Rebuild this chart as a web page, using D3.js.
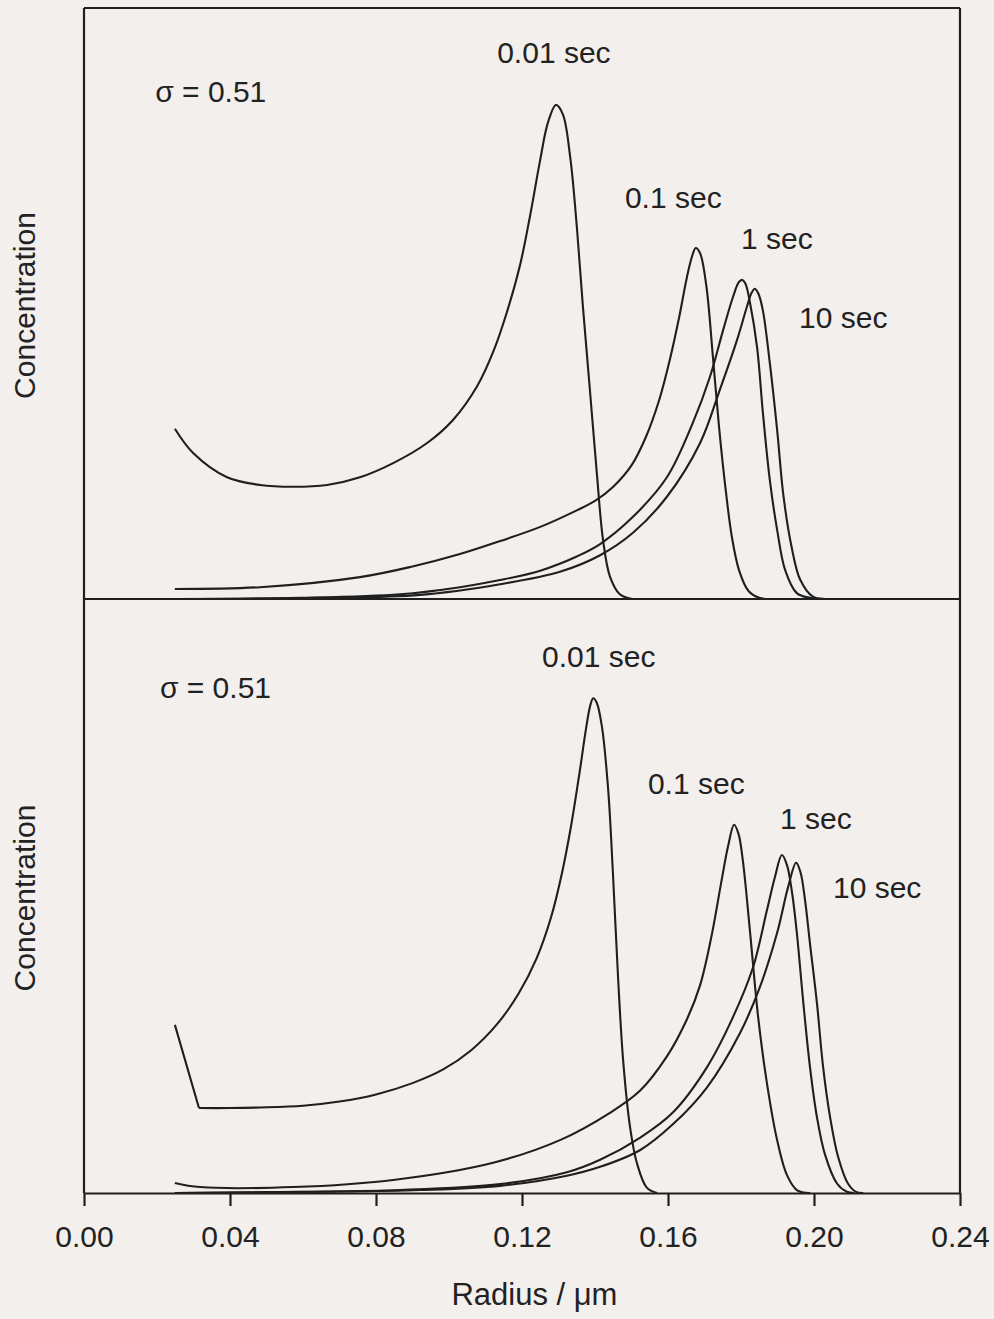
<!DOCTYPE html>
<html>
<head>
<meta charset="utf-8">
<script src="https://cdn.jsdelivr.net/npm/d3@7"></script>
<style>
  html, body { margin: 0; padding: 0; background: #f3efec; }
  svg { display: block; }
  text { font-family: "Liberation Sans", Arial, sans-serif; fill: #222; }
</style>
</head>
<body>
<svg id="chart" width="994" height="1319"></svg>
<script>
// ---------- data ----------
const xTicks = [0, 0.04, 0.08, 0.12, 0.16, 0.20, 0.24];
const seriesNames = ["0.01 sec", "0.1 sec", "1 sec", "10 sec"];
const sigmaLabel = "σ = 0.51";
const xLabel = "Radius / μm";
const yLabel = "Concentration";

// top panel: [radius (µm), concentration (arb.)]
const top001 = [[0.0249,28.8],[0.0299,24.7],[0.0392,20.6],[0.0482,19.3],[0.0573,19.0],[0.0666,19.3],[0.0756,20.6],[0.0847,23.0],[0.0940,26.4],[0.1011,30.3],[0.1077,36.0],[0.1121,41.8],[0.1159,48.6],[0.1195,56.6],[0.1222,64.8],[0.1249,74.0],[0.1271,80.6],[0.1293,83.6],[0.1312,82.0],[0.1332,74.8],[0.1351,62.4],[0.1367,49.4],[0.1386,35.4],[0.1405,21.3],[0.1422,10.0],[0.1441,3.8],[0.1468,0.8],[0.1495,0.1],[0.1520,0]];
const top01 = [[0.0249,1.7],[0.0482,2.0],[0.0756,3.7],[0.0900,5.5],[0.1030,7.6],[0.1140,9.8],[0.1250,12.2],[0.1350,15.0],[0.1400,16.6],[0.1450,19.0],[0.1500,22.6],[0.1540,27.5],[0.1575,33.5],[0.1605,40.5],[0.1630,47.5],[0.1652,54.5],[0.1666,58.0],[0.1676,59.4],[0.1688,58.5],[0.1705,53.0],[0.1723,41.0],[0.1740,29.0],[0.1758,18.5],[0.1775,10.5],[0.1795,4.8],[0.1820,1.4],[0.1850,0.2],[0.1890,0]];
const top1 = [[0.0249,0],[0.0592,0.2],[0.0866,0.8],[0.1030,2.0],[0.1140,3.2],[0.1250,4.8],[0.1350,7.2],[0.1414,9.3],[0.1504,13.9],[0.1597,20.6],[0.1668,29.8],[0.1715,37.6],[0.1751,45.5],[0.1778,51.1],[0.1794,53.6],[0.1803,54.0],[0.1812,53.4],[0.1825,50.0],[0.1844,42.6],[0.1860,31.5],[0.1879,20.1],[0.1899,11.7],[0.1921,4.9],[0.1953,1.0],[0.1989,0.2],[0.2030,0]];
const top10 = [[0.0249,0],[0.0647,0.2],[0.0921,0.7],[0.1140,2.5],[0.1304,4.6],[0.1414,7.4],[0.1504,11.2],[0.1597,17.3],[0.1688,26.4],[0.1742,35.4],[0.1789,43.8],[0.1816,49.4],[0.1829,51.8],[0.1838,52.5],[0.1848,51.6],[0.1860,48.8],[0.1879,39.9],[0.1899,28.6],[0.1916,17.6],[0.1938,9.0],[0.1962,3.3],[0.1997,0.4],[0.2036,0]];

// bottom panel
const bot001 = [[0.0249,28.3],[0.0315,14.3],[0.0400,14.3],[0.0482,14.4],[0.0600,14.7],[0.0700,15.4],[0.0800,16.6],[0.0900,18.5],[0.0984,20.8],[0.1060,24.0],[0.1130,28.3],[0.1190,33.5],[0.1240,39.5],[0.1280,46.5],[0.1310,54.0],[0.1335,62.0],[0.1357,70.5],[0.1375,78.0],[0.1386,81.8],[0.1395,83.3],[0.1405,82.5],[0.1419,78.5],[0.1436,68.0],[0.1449,54.0],[0.1463,36.5],[0.1477,22.4],[0.1496,11.1],[0.1515,5.0],[0.1542,0.9],[0.1570,0]];
const bot01 = [[0.0249,1.7],[0.0318,1.0],[0.0573,1.0],[0.0847,2.2],[0.1121,5.1],[0.1304,8.9],[0.1441,13.5],[0.1523,17.2],[0.1597,23.0],[0.1650,29.0],[0.1688,35.0],[0.1720,43.5],[0.1745,52.0],[0.1765,58.5],[0.1781,62.0],[0.1793,60.5],[0.1805,56.0],[0.1825,43.8],[0.1847,29.6],[0.1871,18.5],[0.1899,8.9],[0.1926,3.0],[0.1953,0.5],[0.1989,0]];
const bot1 = [[0.0249,0],[0.0592,0.2],[0.0866,0.5],[0.1140,1.5],[0.1323,3.5],[0.1414,5.6],[0.1523,9.3],[0.1614,13.6],[0.1707,21.2],[0.1778,29.6],[0.1833,38.0],[0.1871,47.6],[0.1893,53.2],[0.1912,56.9],[0.1926,55.2],[0.1940,50.5],[0.1953,43.8],[0.1970,32.5],[0.1989,21.2],[0.2008,12.8],[0.2030,6.5],[0.2063,1.6],[0.2090,0.2],[0.2110,0]];
const bot10 = [[0.0249,0],[0.0647,0.2],[0.0921,0.5],[0.1140,1.2],[0.1323,2.9],[0.1414,4.4],[0.1523,7.2],[0.1614,11.6],[0.1707,17.8],[0.1797,26.9],[0.1852,34.7],[0.1899,43.8],[0.1929,51.5],[0.1951,55.6],[0.1963,54.0],[0.1975,49.5],[0.1989,42.0],[0.2008,32.0],[0.2025,21.2],[0.2044,12.8],[0.2066,6.1],[0.2093,1.6],[0.2115,0.2],[0.2135,0]];

// label anchor positions in data units: [radius, concentration]
const topLabelPos = [[0.1132,90.7],[0.1482,66.2],[0.1800,59.2],[0.1959,45.9]];
const botLabelPos = [[0.1255,88.5],[0.1545,67.2],[0.1907,61.3],[0.2052,49.7]];
const sigmaPos = [[0.0195,84.1],[0.0208,83.3]];

// ---------- drawing ----------
const svg = d3.select("#chart");
const L = 84, R = 960;
const x = d3.scaleLinear().domain([0, 0.24]).range([L, R]);
const yTop = d3.scaleLinear().domain([0, 100]).range([599, 8]);
const yBot = d3.scaleLinear().domain([0, 100]).range([1193, 599]);

const ink = "#1f1f1f";
const FS = 30;

function drawPath(d) {
  svg.append("path").attr("d", d)
    .attr("fill", "none").attr("stroke", ink).attr("stroke-width", 2.1)
    .attr("stroke-linejoin", "round");
}

function panel(yS, series, labelPos, sPos, sharpStart) {
  const smooth = d3.line().x(d => x(d[0])).y(d => yS(d[1])).curve(d3.curveCatmullRom.alpha(0.5));
  const straight = d3.line().x(d => x(d[0])).y(d => yS(d[1]));
  series.forEach((s, i) => {
    if (sharpStart && i === 0) {
      drawPath(straight(s.slice(0, 2)));
      drawPath(smooth(s.slice(1)));
    } else {
      drawPath(smooth(s));
    }
  });
  seriesNames.forEach((n, i) => {
    svg.append("text").attr("x", x(labelPos[i][0])).attr("y", yS(labelPos[i][1]))
      .attr("font-size", FS).text(n);
  });
  svg.append("text").attr("x", x(sPos[0])).attr("y", yS(sPos[1]))
    .attr("font-size", FS).text(sigmaLabel);
  const [y0, y1] = yS.range();
  svg.append("text")
    .attr("transform", `translate(35,${(y0 + y1) / 2 + 2}) rotate(-90)`)
    .attr("text-anchor", "middle").attr("font-size", FS).text(yLabel);
}

panel(yTop, [top001, top01, top1, top10], topLabelPos, sigmaPos[0], false);
panel(yBot, [bot001, bot01, bot1, bot10], botLabelPos, sigmaPos[1], true);

// frames
const frame = svg.append("g").attr("stroke", ink).attr("stroke-width", 2.2).attr("fill", "none");
frame.append("line").attr("x1", L).attr("x2", R).attr("y1", yTop(100)).attr("y2", yTop(100));
frame.append("line").attr("x1", L).attr("x2", R).attr("y1", yTop(0)).attr("y2", yTop(0));
frame.append("line").attr("x1", L).attr("x2", L).attr("y1", yTop(100)).attr("y2", yBot(0));
frame.append("line").attr("x1", R).attr("x2", R).attr("y1", yTop(100)).attr("y2", yBot(0));

// bottom axis
const axis = d3.axisBottom(x).tickValues(xTicks).tickFormat(d3.format(".2f"))
  .tickSize(13).tickSizeOuter(0).tickPadding(8);
const ag = svg.append("g").attr("transform", `translate(0,${yBot(0)})`).call(axis);
ag.select(".domain").attr("stroke", ink).attr("stroke-width", 2.2);
ag.selectAll(".tick line").attr("stroke", ink).attr("stroke-width", 2.2);
ag.selectAll(".tick text").attr("font-size", FS).attr("fill", "#222")
  .attr("font-family", "'Liberation Sans', Arial, sans-serif")
  .attr("dy", null).attr("y", 54);

svg.append("text").attr("x", x(0.1234)).attr("y", 1305).attr("text-anchor", "middle")
  .attr("font-size", 31).text(xLabel);
</script>
</body>
</html>
